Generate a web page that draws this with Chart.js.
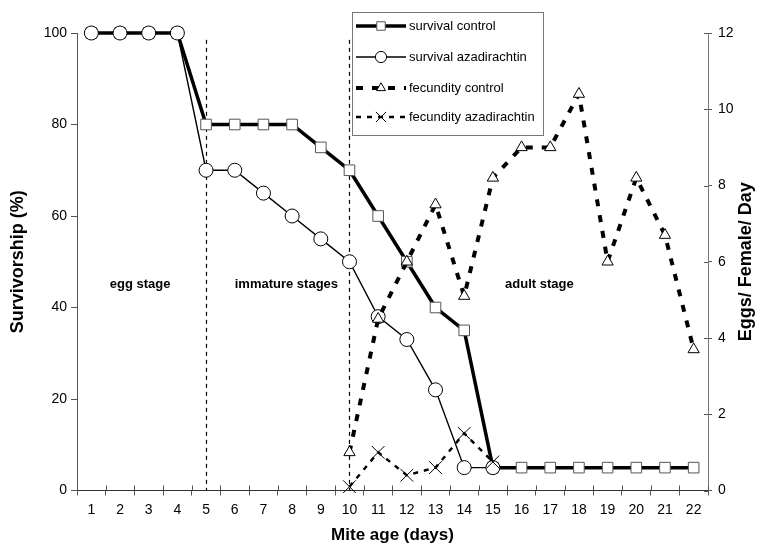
<!DOCTYPE html>
<html>
<head>
<meta charset="utf-8">
<script src="https://cdn.jsdelivr.net/npm/chart.js@4/dist/chart.umd.min.js"></script>
<style>
  html, body { margin: 0; padding: 0; background: #fff; }
  #wrap { width: 763px; height: 553px; }
</style>
</head>
<body>
<div id="wrap"><canvas id="grafico" width="763" height="553"></canvas></div>
<script>
// Dados (idade do ácaro em dias)
const DIAS = ["1","2","3","4","5","6","7","8","9","10","11","12","13","14","15","16","17","18","19","20","21","22"];

const SOBREV_CONTROLE = [100, 100, 100, 100, 80, 80, 80, 80, 75, 70, 60, 50, 40, 35, 5, 5, 5, 5, 5, 5, 5, 5];
const SOBREV_AZA      = [100, 100, 100, 100, 70, 70, 65, 60, 55, 50, 38, 33, 22, 5, 5, null, null, null, null, null, null, null];
const FEC_CONTROLE    = [null, null, null, null, null, null, null, null, null, 1.0, 4.5, 6.0, 7.5, 5.1, 8.2, 9.0, 9.0, 10.4, 6.0, 8.2, 6.7, 3.7];
const FEC_AZA         = [null, null, null, null, null, null, null, null, null, 0.1, 1.0, 0.4, 0.6, 1.5, 0.75, null, null, null, null, null, null, null];

const TICKS_SOBREV = [0, 20, 40, 60, 80, 100];
const TICKS_OVOS   = [0, 2, 4, 6, 8, 10, 12];

// Divisões das fases (dias) e rótulos
const DIAS_DIVISAO = ["5", "10"];
const FASES = ["egg stage", "immature stages", "adult stage"];
const FASES_POS = [1.7, 6.8, 15.62];  // posição em categorias
const FASES_ALTURA = 45;              // em % de sobrevivência

const FONTE = "Arial, 'Liberation Sans', sans-serif";

const series = [
  {
    label: "survival control", data: SOBREV_CONTROLE, yAxisID: "y", order: 4, clip: false,
    borderColor: "#000", borderWidth: 3.5,
    pointStyle: "rect", pointRadius: 7.5, pointBackgroundColor: "#fff", pointBorderColor: "#555", pointBorderWidth: 1
  },
  {
    label: "survival azadirachtin", data: SOBREV_AZA, yAxisID: "y", order: 3, clip: false,
    borderColor: "#000", borderWidth: 1.4,
    pointStyle: "circle", pointRadius: 7, pointBackgroundColor: "#fff", pointBorderColor: "#000", pointBorderWidth: 1
  },
  {
    label: "fecundity control", data: FEC_CONTROLE, yAxisID: "y2", order: 2, clip: false,
    borderColor: "#000", borderWidth: 4, borderDash: [7, 9],
    pointStyle: "triangle", pointRadius: 6.5, pointBackgroundColor: "#fff", pointBorderColor: "#000", pointBorderWidth: 1
  },
  {
    label: "fecundity azadirachtin", data: FEC_AZA, yAxisID: "y2", order: 1, clip: false,
    borderColor: "#000", borderWidth: 2.4, borderDash: [5, 6],
    pointStyle: "crossRot", pointRadius: 9, pointBackgroundColor: "#fff", pointBorderColor: "#000", pointBorderWidth: 1
  }
];

// Linhas tracejadas, rótulos das fases, títulos e legenda
const extras = {
  id: "extras",
  beforeDatasetsDraw(chart) {
    const { ctx, scales: { x, y } } = chart;
    ctx.save();
    ctx.strokeStyle = "#000";
    ctx.lineWidth = 1.2;
    ctx.setLineDash([4, 4]);
    DIAS_DIVISAO.forEach(d => {
      const px = Math.round(x.getPixelForValue(DIAS.indexOf(d))) + 0.5;
      ctx.beginPath();
      ctx.moveTo(px, y.getPixelForValue(98.5));
      ctx.lineTo(px, y.bottom);
      ctx.stroke();
    });
    ctx.setLineDash([]);

    // rótulos das fases
    const passo = x.getPixelForValue(1) - x.getPixelForValue(0);
    ctx.fillStyle = "#000";
    ctx.font = "bold 13px " + FONTE;
    ctx.textAlign = "center";
    ctx.textBaseline = "middle";
    FASES.forEach((txt, i) => {
      ctx.fillText(txt, x.getPixelForValue(0) + FASES_POS[i] * passo, y.getPixelForValue(FASES_ALTURA));
    });

    // marcas que cruzam os eixos
    ctx.strokeStyle = "#555";
    ctx.lineWidth = 1;
    for (let i = 0; i <= DIAS.length; i++) {
      const px = Math.round(x.getPixelForValue(0) - passo / 2 + i * passo) + 0.5;
      ctx.beginPath();
      ctx.moveTo(px, x.top - 5);
      ctx.lineTo(px, x.top);
      ctx.stroke();
    }
    const y2 = chart.scales.y2;
    TICKS_OVOS.forEach(v => {
      const py = Math.round(y2.getPixelForValue(v)) + 0.5;
      ctx.beginPath();
      ctx.moveTo(y2.left - 4, py);
      ctx.lineTo(y2.left, py);
      ctx.stroke();
    });
    ctx.restore();
  },
  afterDraw(chart) {
    const { ctx, chartArea } = chart;
    ctx.save();
    ctx.fillStyle = "#000";
    ctx.textAlign = "center";
    ctx.textBaseline = "middle";
    const meio = (chartArea.top + chartArea.bottom) / 2;
    ctx.font = "bold 17px " + FONTE;
    ctx.fillText("Mite age (days)", (chartArea.left + chartArea.right) / 2, 535);
    ctx.font = "bold 18px " + FONTE;
    [["Survivorship (%)", 18], ["Eggs/ Female/ Day", 746]].forEach(([txt, px]) => {
      ctx.save();
      ctx.translate(px, meio);
      ctx.rotate(-Math.PI / 2);
      ctx.fillText(txt, 0, 0);
      ctx.restore();
    });

    // legenda
    ctx.fillStyle = "#fff";
    ctx.fillRect(352.5, 12.5, 191, 123);
    ctx.strokeStyle = "#777";
    ctx.lineWidth = 1;
    ctx.strokeRect(352.5, 12.5, 191, 123);
    const linhas = [26, 57, 88, 117];
    series.forEach((s, i) => {
      const ly = linhas[i];
      ctx.strokeStyle = "#000";
      ctx.lineWidth = s.borderWidth;
      ctx.setLineDash(s.borderDash || []);
      ctx.beginPath();
      ctx.moveTo(356, ly);
      ctx.lineTo(406, ly);
      ctx.stroke();
      ctx.setLineDash([]);
      ctx.fillStyle = "#fff";
      ctx.strokeStyle = s.pointBorderColor;
      ctx.lineWidth = 1;
      Chart.helpers.drawPoint(ctx, { pointStyle: s.pointStyle, radius: s.pointRadius * 0.8, rotation: 0, borderWidth: 1 }, 381, ly);
      ctx.fillStyle = "#000";
      ctx.font = "13px " + FONTE;
      ctx.textAlign = "left";
      ctx.fillText(s.label, 409, ly);
    });
    ctx.restore();
  }
};

new Chart(document.getElementById("grafico"), {
  type: "line",
  data: { labels: DIAS, datasets: series },
  options: {
    responsive: false,
    animation: false,
    devicePixelRatio: 1,
    layout: { padding: { top: 33, left: 0, right: 0, bottom: 0 } },
    plugins: { legend: { display: false }, tooltip: { enabled: false } },
    scales: {
      x: {
        offset: true,
        grid: { display: true, drawOnChartArea: false, offset: true, tickLength: 5, color: "#555" },
        border: { color: "#333", width: 1 },
        ticks: { color: "#000", font: { family: FONTE, size: 14 }, padding: 6, maxRotation: 0, autoSkip: false },
        afterFit: s => { s.height = 62.5; }
      },
      y: {
        min: 0, max: 100,
        afterBuildTicks: s => { s.ticks = TICKS_SOBREV.map(v => ({ value: v })); },
        grid: { drawOnChartArea: false, tickLength: 6, color: "#555" },
        border: { color: "#555", width: 1 },
        ticks: { color: "#000", font: { family: FONTE, size: 14 }, padding: 4 },
        afterFit: s => { s.width = 77; }
      },
      y2: {
        position: "right",
        min: 0, max: 12,
        afterBuildTicks: s => { s.ticks = TICKS_OVOS.map(v => ({ value: v })); },
        grid: { drawOnChartArea: false, tickLength: 4, color: "#555" },
        border: { color: "#777", width: 1 },
        ticks: { color: "#000", font: { family: FONTE, size: 14 }, padding: 6 },
        afterFit: s => { s.width = 55; }
      }
    }
  },
  plugins: [extras]
});
</script>
</body>
</html>
